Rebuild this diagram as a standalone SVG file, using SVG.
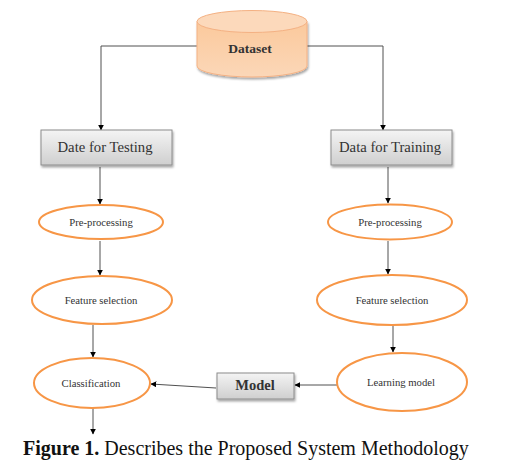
<svg xmlns="http://www.w3.org/2000/svg" width="509" height="475" viewBox="0 0 509 475">
<defs>
<linearGradient id="gBox" x1="0" y1="0" x2="0" y2="1">
<stop offset="0" stop-color="#f4f4f4"/><stop offset="1" stop-color="#cfcfcf"/>
</linearGradient>
<linearGradient id="gCyl" x1="0" y1="0" x2="0" y2="1">
<stop offset="0" stop-color="#fbc99c"/><stop offset="1" stop-color="#fbd7b8"/>
</linearGradient>
<marker id="arr" viewBox="0 0 10 10" refX="9" refY="5" markerWidth="6" markerHeight="6" orient="auto-start-reverse" markerUnits="userSpaceOnUse">
<path d="M0,0 L10,5 L0,10 z" fill="#000"/>
</marker>
<filter id="sh" x="-10%" y="-10%" width="130%" height="140%">
<feDropShadow dx="1" dy="2" stdDeviation="1.2" flood-color="#000" flood-opacity="0.35"/>
</filter>
</defs>
<style>
.box{fill:url(#gBox);stroke:#8c8c8c;stroke-width:1}
.ell{fill:#fff;stroke:#f79646;stroke-width:2}
.t{font-family:"Liberation Serif",serif;fill:#333;text-anchor:middle}
.tb{font-size:14.7px}
.te{font-size:10.7px}
.c{fill:none;stroke:#505050;stroke-width:1}
</style>
<rect width="509" height="475" fill="#fff"/>
<g id="connectors">
<polyline class="c" points="197,46 101,46 101,130" marker-end="url(#arr)"/>
<polyline class="c" points="307,46 383,46 383,130" marker-end="url(#arr)"/>
<line class="c" x1="100" y1="167" x2="100" y2="204" marker-end="url(#arr)"/>
<line class="c" x1="388" y1="167" x2="388" y2="203" marker-end="url(#arr)"/>
<line class="c" x1="100" y1="241" x2="100" y2="275" marker-end="url(#arr)"/>
<line class="c" x1="388" y1="241" x2="388" y2="274" marker-end="url(#arr)"/>
<line class="c" x1="93" y1="325" x2="93" y2="357" marker-end="url(#arr)"/>
<line class="c" x1="393" y1="325" x2="393" y2="352" marker-end="url(#arr)"/>
<line class="c" x1="337" y1="385" x2="295" y2="385" marker-end="url(#arr)"/>
<line class="c" x1="216" y1="388" x2="151" y2="384" marker-end="url(#arr)"/>
<line class="c" x1="93" y1="408" x2="93" y2="434" marker-end="url(#arr)"/>
</g>
<g id="dataset">
<path d="M197,21.5 L197,66 A55,11 0 0 0 307,66 L307,21.5 Z" fill="url(#gCyl)" stroke="#f4b183" stroke-width="1" filter="url(#sh)"/>
<ellipse cx="252" cy="21.5" rx="55" ry="11" fill="#fcd9bb" stroke="#f4b183" stroke-width="1"/>
<text class="t" x="250" y="53" font-size="13.5px" font-weight="bold">Dataset</text>
</g>
<g id="testing">
<rect class="box" x="41" y="130" width="131" height="35" filter="url(#sh)"/>
<text class="t tb" x="105" y="152">Date for Testing</text>
</g>
<g id="training">
<rect class="box" x="331" y="130" width="121" height="35" filter="url(#sh)"/>
<text class="t tb" x="390" y="152">Data for Training</text>
</g>
<g id="pre-test">
<ellipse class="ell" cx="101" cy="222" rx="62" ry="17"/>
<text class="t te" x="101" y="226">Pre-processing</text>
</g>
<g id="pre-train">
<ellipse class="ell" cx="390" cy="222" rx="62" ry="17.5"/>
<text class="t te" x="390" y="226">Pre-processing</text>
</g>
<g id="feat-test">
<ellipse class="ell" cx="102" cy="300" rx="70" ry="24"/>
<text class="t te" x="101" y="304">Feature selection</text>
</g>
<g id="feat-train">
<ellipse class="ell" cx="392" cy="300" rx="75" ry="25"/>
<text class="t te" x="392" y="304">Feature selection</text>
</g>
<g id="classification">
<ellipse class="ell" cx="92" cy="383" rx="58" ry="25"/>
<text class="t te" x="91" y="387">Classification</text>
</g>
<g id="model">
<rect class="box" x="217" y="373" width="77" height="26" filter="url(#sh)"/>
<text class="t" x="255" y="390" font-size="14.5px" font-weight="bold">Model</text>
</g>
<g id="learning">
<ellipse class="ell" cx="402" cy="382" rx="65" ry="29"/>
<text class="t te" x="401" y="386">Learning model</text>
</g>
<text x="23" y="455" font-family="'Liberation Serif',serif" font-size="20px" fill="#111"><tspan font-weight="bold">Figure 1.</tspan> Describes the Proposed System Methodology</text>
</svg>
